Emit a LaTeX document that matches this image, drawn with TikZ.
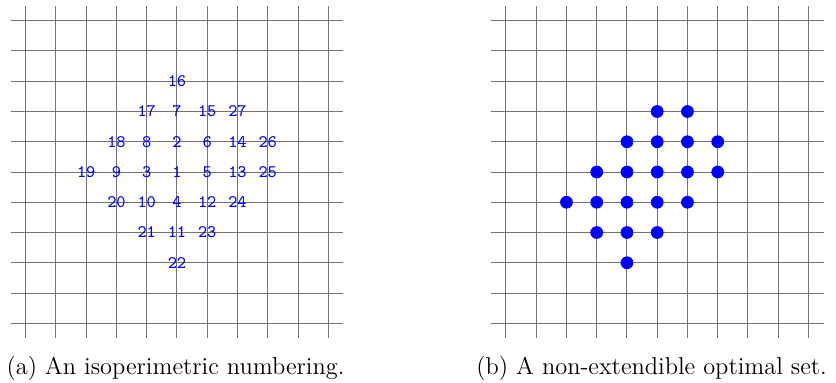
\documentclass[tikz,border=0pt]{standalone}
\begin{document}
\begin{tikzpicture}[x=15.125pt,y=15.125pt,
  gridline/.style={draw=black!55, line width=0.5pt},
  lbl/.style={text=blue, font=\fontsize{8.8}{10}\selectfont\ttfamily, inner sep=0pt},
  dot/.style={circle, fill=blue, inner sep=0pt, minimum size=6.4pt},
  captext/.style={font=\fontsize{12.2}{14}\selectfont, anchor=base, inner sep=0pt}]
\useasboundingbox (-5.851,-6.975) rectangle (21.785,5.686);
% left grid
\foreach \i in {-5,...,5} {
  \draw[gridline] (\i,-5.5) -- (\i,5.5);
  \draw[gridline] (-5.5,\i) -- (5.5,\i);
}
\foreach \n/\x/\y in {1/0/0, 2/0/1, 3/-1/0, 4/0/-1, 5/1/0, 6/1/1, 7/0/2, 8/-1/1,
  9/-2/0, 10/-1/-1, 11/0/-2, 12/1/-1, 13/2/0, 14/2/1, 15/1/2, 16/0/3, 17/-1/2,
  18/-2/1, 19/-3/0, 20/-2/-1, 21/-1/-2, 22/0/-3, 23/1/-2, 24/2/-1, 25/3/0,
  26/3/1, 27/2/2}
  \node[lbl] (n\n) at (\x,\y) {\n};
\node[captext] (capa) at (-0.05,-6.71) {(a) An isoperimetric numbering.};
% right grid
\begin{scope}[shift={(15.875,0)}]
\foreach \i in {-5,...,5} {
  \draw[gridline] (\i,-5.5) -- (\i,5.5);
  \draw[gridline] (-5.5,\i) -- (5.5,\i);
}
\foreach \x/\y [count=\k] in {0/2,1/2,-1/1,0/1,1/1,2/1,-2/0,-1/0,0/0,1/0,2/0,
  -3/-1,-2/-1,-1/-1,0/-1,1/-1,-2/-2,-1/-2,0/-2,-1/-3}
  \node[dot] (d\k) at (\x,\y) {};
\end{scope}
\node[captext] (capb) at (15.69,-6.71) {(b) A non-extendible optimal set.};
\end{tikzpicture}
\end{document}
